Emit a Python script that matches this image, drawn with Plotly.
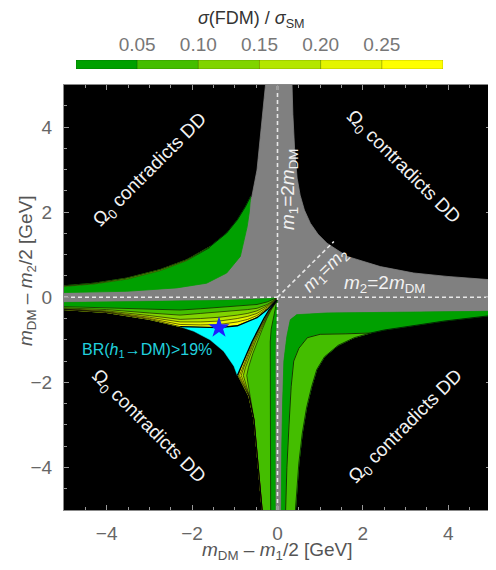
import plotly.graph_objects as go

# ---------------- colour levels of sigma(FDM)/sigma_SM ----------------
LEVEL_COLORS = ["#00A000", "#44BE00", "#80D400", "#B4E600", "#E4F500", "#FFFF00"]
CBAR_CENTERS = [0.025, 0.075, 0.125, 0.175, 0.225, 0.275]
CBAR_TICKS = [0.05, 0.10, 0.15, 0.20, 0.25]
CBAR_TICKTEXT = ["0.05", "0.10", "0.15", "0.20", "0.25"]
AXIS_TICKS = [-4, -2, 0, 2, 4]

GRAY = "#808080"
CYAN = "#00FFFF"

# ---------------- gray (allowed) region boundaries ----------------
ALLOW_UR_X = [0.34, 0.36, 0.40, 0.46, 0.53, 0.63, 0.77, 0.95, 1.16, 1.63, 2.41, 3.19, 3.97, 5.0]
ALLOW_UR_Y = [5.0, 4.3, 3.5, 2.8, 2.4, 2.05, 1.74, 1.48, 1.27, 0.96, 0.72, 0.57, 0.49, 0.41]
ALLOW_UL_X = [-0.28, -0.40, -0.48, -0.60, -0.75, -1.0, -1.5, -2.5, -3.5, -5.0]
ALLOW_UL_Y = [5.0, 3.77, 2.99, 2.37, 1.9, 1.3, 0.8, 0.4, 0.25, 0.2]
ALLOW_LR_X = [5.0, 2.72, 1.16, 0.45, 0.30, 0.22, 0.15, 0.12, 0.10, 0.09]
ALLOW_LR_Y = [-0.33, -0.36, -0.37, -0.41, -0.53, -0.92, -1.5, -2.5, -3.5, -5.0]

# ---------------- lower-left fan, horizontal arm (y values on x grid) ----------------
FAN_H_X = [-5.0, -4.0, -3.0, -2.28, -1.8, -1.37, -0.94, -0.7, -0.48, -0.24, -0.1, -0.01]
FAN_H_G = [-0.12, -0.11, -0.10, -0.09, -0.08, -0.07, -0.06, -0.055, -0.05, -0.03, -0.015, -0.005]
FAN_H_B1 = [-0.22, -0.25, -0.29, -0.30, -0.27, -0.24, -0.21, -0.19, -0.17, -0.11, -0.05, -0.008]
FAN_H_B2 = [-0.25, -0.29, -0.37, -0.42, -0.38, -0.35, -0.32, -0.29, -0.26, -0.17, -0.08, -0.012]
FAN_H_B3 = [-0.27, -0.32, -0.43, -0.52, -0.50, -0.47, -0.42, -0.38, -0.32, -0.20, -0.095, -0.02]
FAN_H_B4 = [-0.28, -0.34, -0.47, -0.58, -0.58, -0.56, -0.50, -0.45, -0.38, -0.23, -0.11, -0.03]
FAN_H_B5 = [-0.285, -0.35, -0.50, -0.64, -0.65, -0.64, -0.58, -0.52, -0.43, -0.26, -0.125, -0.04]
FAN_H_OUT = [-0.29, -0.36, -0.52, -0.69, -0.71, -0.715, -0.67, -0.58, -0.48, -0.29, -0.14, -0.05]

# ---------------- lower-left fan, vertical arm (x values on y grid) ----------------
FAN_V_Y = [-0.05, -0.16, -0.3, -0.5, -0.76, -1.05, -1.33, -1.65, -1.84, -2.33, -2.88, -3.66, -4.44, -5.0]
FAN_V_G = [-0.005, -0.01, -0.02, -0.03, -0.04, -0.045, -0.05, -0.05, -0.05, -0.05, -0.05, -0.05, -0.05, -0.05]
FAN_V_B1 = [-0.008, -0.03, -0.07, -0.11, -0.15, -0.17, -0.17, -0.17, -0.17, -0.17, -0.17, -0.16, -0.16, -0.16]
FAN_V_B2 = [-0.009, -0.06, -0.15, -0.25, -0.36, -0.48, -0.58, -0.68, -0.72, -0.64, -0.55, -0.48, -0.40, -0.36]
FAN_V_B3 = [-0.0095, -0.065, -0.165, -0.27, -0.39, -0.52, -0.63, -0.75, -0.80, -0.655, -0.55, -0.48, -0.40, -0.36]
FAN_V_B4 = [-0.0098, -0.07, -0.175, -0.285, -0.415, -0.55, -0.665, -0.79, -0.85, -0.66, -0.55, -0.48, -0.40, -0.36]
FAN_V_B5 = [-0.01, -0.075, -0.187, -0.30, -0.435, -0.575, -0.69, -0.825, -0.89, -0.665, -0.55, -0.48, -0.40, -0.36]
FAN_V_OUT = [-0.01, -0.08, -0.20, -0.32, -0.46, -0.60, -0.72, -0.86, -0.92, -0.67, -0.55, -0.48, -0.40, -0.36]

# ---------------- cyan region BR(h1->DM) > 19% ----------------
CYAN_X = [-2.28, -1.8, -1.37, -0.94, -0.7, -0.48, -0.24, -0.1, -0.01,
          -0.08, -0.2, -0.32, -0.46, -0.6, -0.72, -0.86, -0.94,
          -1.02, -1.26, -1.58, -1.96]
CYAN_Y = [-0.69, -0.71, -0.715, -0.67, -0.58, -0.48, -0.29, -0.14, -0.05,
          -0.16, -0.3, -0.5, -0.76, -1.05, -1.33, -1.65, -1.84,
          -1.62, -1.27, -1.0, -0.80]

# ---------------- upper-left green region ----------------
UL_TOP_X = [-5.0, -4.3, -3.53, -2.75, -2.13, -1.58, -1.19, -0.94, -0.75, -0.63]
UL_TOP_Y = [0.27, 0.33, 0.45, 0.65, 0.88, 1.19, 1.51, 1.82, 2.13, 2.37]
UL_BOT_X = [-0.66, -0.71, -0.87, -1.19, -1.66, -2.36, -3.53, -5.0]
UL_BOT_Y = [2.0, 1.66, 0.96, 0.57, 0.33, 0.22, 0.14, 0.11]
UL_STRIPE_Y = [0.255, 0.312, 0.425, 0.625, 0.86, 1.17]

# ---------------- lower-right green region ----------------
LR_OUT_X = [0.42, 0.50, 0.58, 0.68, 0.80, 0.92, 1.10, 1.42, 1.80, 2.18, 2.50, 3.10, 3.90, 5.0]
LR_OUT_Y = [-5.0, -3.9, -3.2, -2.6, -2.1, -1.7, -1.4, -1.13, -0.95, -0.84, -0.77, -0.68, -0.56, -0.43]
LR_MID_X = [0.19, 0.22, 0.27, 0.32, 0.38, 0.50, 0.70, 1.00, 1.60, 2.18]
LR_MID_Y = [-5.0, -4.0, -3.0, -2.1, -1.5, -1.2, -0.95, -0.87, -0.86, -0.84]

# ---------------- reference lines, benchmark point ----------------
VLINE_X, VLINE_Y = [0, 0], [-5, 5]
HLINE_X, HLINE_Y = [-5, 5], [0, 0]
DIAG_X, DIAG_Y = [0, 1.32], [0, 1.31]
STAR_X, STAR_Y = [-1.37], [-0.715]

FONT = "Liberation Sans, Arial, sans-serif"
fig = go.Figure()


def poly(xs, ys, color, lw=0.8):
    fig.add_trace(go.Scatter(x=list(xs) + [xs[0]], y=list(ys) + [ys[0]], mode="lines",
                             fill="toself", fillcolor=color,
                             line=dict(color=color, width=lw),
                             hoverinfo="skip", showlegend=False))


def line(xs, ys, color="black", lw=0.7, dash=None):
    fig.add_trace(go.Scatter(x=list(xs), y=list(ys), mode="lines",
                             line=dict(color=color, width=lw, dash=dash),
                             hoverinfo="skip", showlegend=False))


# gray allowed region
gx = ALLOW_UL_X + FAN_H_X + FAN_V_G + ALLOW_LR_X[::-1] + ALLOW_UR_X[::-1]
gy = ALLOW_UL_Y + FAN_H_G + FAN_V_Y + ALLOW_LR_Y[::-1] + ALLOW_UR_Y[::-1]
poly(gx, gy, GRAY)

# upper-left green
poly(UL_TOP_X + UL_BOT_X, UL_TOP_Y + UL_BOT_Y, LEVEL_COLORS[0])
n = len(UL_STRIPE_Y)
poly(UL_TOP_X[:n] + UL_TOP_X[:n][::-1], UL_TOP_Y[:n] + UL_STRIPE_Y[::-1], LEVEL_COLORS[2], lw=0.3)
line(UL_TOP_X[:n], UL_STRIPE_Y, "black", 0.5)
line(UL_TOP_X, UL_TOP_Y, "black", 0.7)

# lower-right green
poly(ALLOW_LR_X + LR_OUT_X, ALLOW_LR_Y + LR_OUT_Y, LEVEL_COLORS[0])
k = LR_OUT_X.index(LR_MID_X[-1])
poly(LR_MID_X + LR_OUT_X[:k + 1][::-1], LR_MID_Y + LR_OUT_Y[:k + 1][::-1], LEVEL_COLORS[1])
line(LR_MID_X, LR_MID_Y, "black", 0.7)
line(LR_OUT_X, LR_OUT_Y, "black", 0.7)

# lower-left fan
H_LEVELS = [FAN_H_G, FAN_H_B1, FAN_H_B2, FAN_H_B3, FAN_H_B4, FAN_H_B5]
V_LEVELS = [FAN_V_G, FAN_V_B1, FAN_V_B2, FAN_V_B3, FAN_V_B4, FAN_V_B5]
for lev_h, lev_v, col in zip(H_LEVELS, V_LEVELS, LEVEL_COLORS):
    poly(FAN_H_X + FAN_H_X[::-1], lev_h + FAN_H_OUT[::-1], col, lw=0.4)
    poly(lev_v + FAN_V_OUT[::-1], FAN_V_Y + FAN_V_Y[::-1], col, lw=0.4)
for lev_h, lev_v in zip(H_LEVELS[1:], V_LEVELS[1:]):
    line(FAN_H_X, lev_h, "black", 0.6)
    line(lev_v, FAN_V_Y, "black", 0.6)
line(FAN_H_X, FAN_H_OUT, "black", 0.7)
line(FAN_V_OUT, FAN_V_Y, "black", 0.7)

# cyan region
poly(CYAN_X, CYAN_Y, CYAN, lw=0.5)
line(CYAN_X[:17], CYAN_Y[:17], "black", 1.3)

# dashed reference lines
for xs, ys in [(VLINE_X, VLINE_Y), (HLINE_X, HLINE_Y), (DIAG_X, DIAG_Y)]:
    line(xs, ys, "#E8E8E8", 1.6, "4px,3px")

# benchmark star
fig.add_trace(go.Scatter(x=STAR_X, y=STAR_Y, mode="markers",
                         marker=dict(symbol="star", size=16, color="#1f1fff",
                                     line=dict(width=0)),
                         hoverinfo="skip", showlegend=False))

# colour bar as discrete heatmap
cs = []
for i, c in enumerate(LEVEL_COLORS):
    cs += [[i / len(LEVEL_COLORS), c], [(i + 1) / len(LEVEL_COLORS), c]]
fig.add_trace(go.Heatmap(z=[CBAR_CENTERS], x=CBAR_CENTERS, y=[0], zmin=0, zmax=0.3,
                         colorscale=cs, showscale=False, hoverinfo="skip",
                         xaxis="x2", yaxis="y2"))
for t in CBAR_TICKS:
    fig.add_shape(type="line", xref="x2", yref="y2", x0=t, x1=t, y0=-0.5, y1=0.5,
                  line=dict(color="rgba(0,0,0,0.25)", width=1))
fig.add_shape(type="rect", xref="x2", yref="y2", x0=0, x1=0.3, y0=-0.5, y1=0.5,
              line=dict(color="rgba(0,0,0,0.2)", width=1))

axis_common = dict(range=[-5, 5], tickvals=AXIS_TICKS, ticks="inside", ticklen=5,
                   tickcolor="#999", showgrid=False, zeroline=False, showline=True,
                   linecolor="#888", linewidth=1, mirror="allticks", automargin=False,
                   tickfont=dict(family=FONT, size=19, color="#666"),
                   minor=dict(ticks="inside", ticklen=3, dtick=0.5, tickcolor="#999",
                              showgrid=False))

# page body has an 8px margin: the figure is sized so the plot lands where intended
fig.update_layout(
    width=488, height=562,
    margin=dict(l=56, r=5, t=2, b=60),
    paper_bgcolor="white", plot_bgcolor="black",
    showlegend=False, hovermode=False,
    font=dict(family=FONT),
    xaxis=dict(domain=[0, 1], ticklabelstandoff=6, **axis_common),
    yaxis=dict(domain=[0, 0.851], ticklabelstandoff=7, **axis_common),
    xaxis2=dict(domain=[0.0281, 0.8876], anchor="y2", range=[0, 0.3], side="top",
                tickvals=CBAR_TICKS, ticktext=CBAR_TICKTEXT, ticks="", showgrid=False,
                zeroline=False, showline=False, ticklabelstandoff=4, automargin=False,
                tickfont=dict(family=FONT, size=19, color="#777")),
    yaxis2=dict(domain=[0.882, 0.900], anchor="x2", range=[-0.5, 0.5], visible=False,
                automargin=False),
)

ann = []
WHITE = "#F2F2F2"
omega = "Ω<sub>0</sub> contradicts DD"
for (x, y, a) in [(-2.97, 2.98, -45), (2.95, 3.04, 45), (-3.03, -3.06, 45), (3.0, -3.04, -45)]:
    ann.append(dict(x=x, y=y, xref="x", yref="y", text=omega, textangle=a, showarrow=False,
                    font=dict(family=FONT, size=19, color=WHITE)))
ann.append(dict(x=0.27, y=2.52, xref="x", yref="y", text="<i>m</i><sub>1</sub>=2<i>m</i><sub>DM</sub>",
                textangle=-90, showarrow=False, font=dict(family=FONT, size=19, color=WHITE)))
ann.append(dict(x=2.5, y=0.3, xref="x", yref="y", text="<i>m</i><sub>2</sub>=2<i>m</i><sub>DM</sub>",
                showarrow=False, font=dict(family=FONT, size=19, color=WHITE)))
ann.append(dict(x=1.13, y=0.64, xref="x", yref="y", text="<i>m</i><sub>1</sub>=<i>m</i><sub>2</sub>",
                textangle=-45, showarrow=False, font=dict(family=FONT, size=18, color=WHITE)))
ann.append(dict(x=-3.05, y=-1.26, xref="x", yref="y", text="BR(<i>h</i><sub>1</sub>→DM)>19%",
                showarrow=False, font=dict(family=FONT, size=16, color="#22D0DD")))
# colour-bar title and axis titles
ann.append(dict(x=0.438, y=0.982, xref="paper", yref="paper", yanchor="middle",
                text="<i>σ</i>(FDM) / <i>σ</i><sub>SM</sub>", showarrow=False,
                font=dict(family=FONT, size=18, color="#333")))
ann.append(dict(x=0.5, y=-0.082, xref="paper", yref="paper", yanchor="middle",
                text="<i>m</i><sub>DM</sub> – <i>m</i><sub>1</sub>/2 [GeV]", showarrow=False,
                font=dict(family=FONT, size=19, color="#555")))
ann.append(dict(x=-0.0867, y=0.48, xref="paper", yref="paper", xanchor="center", yanchor="middle",
                text="<i>m</i><sub>DM</sub> – <i>m</i><sub>2</sub>/2 [GeV]", textangle=-90,
                showarrow=False, font=dict(family=FONT, size=19, color="#555")))
fig.update_layout(annotations=ann)

fig.write_html("out.html")
